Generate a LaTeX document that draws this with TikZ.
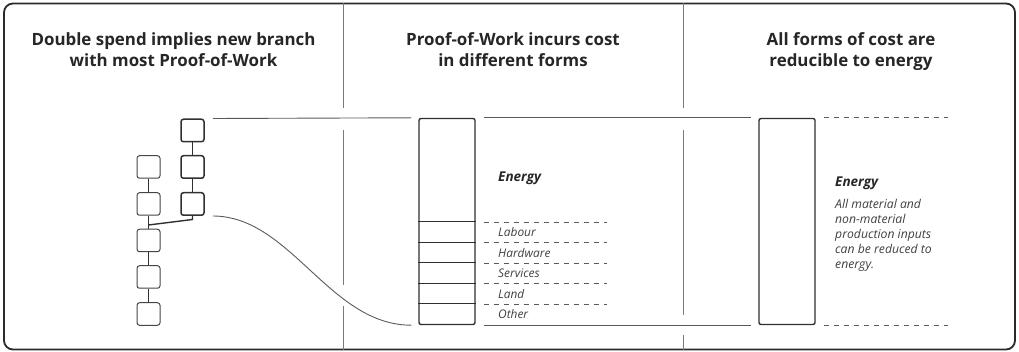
\documentclass[tikz,border=0pt]{standalone}
\usepackage{fontspec}
\setmainfont{Open Sans}
\definecolor{txt}{HTML}{262626}
\definecolor{frm}{HTML}{2A2A2A}
\definecolor{divc}{HTML}{7A7A7A}
\definecolor{hl}{HTML}{5A5A5A}
\definecolor{boxc}{HTML}{303030}
\definecolor{labc}{HTML}{404040}
\begin{document}
\begin{tikzpicture}[x=1pt,y=-1pt,
  frame/.style={draw=frm,line width=1.8pt,rounded corners=9pt},
  divline/.style={draw=divc,line width=1pt},
  blkL/.style={draw=boxc!90,line width=1pt,rounded corners=2.5pt,minimum width=23pt,minimum height=22.5pt,inner sep=0pt},
  blkR/.style={draw=boxc,line width=1.5pt,rounded corners=2.5pt,minimum width=23pt,minimum height=22.5pt,inner sep=0pt},
  link/.style={draw=boxc,line width=1.4pt},
  barbox/.style={draw=boxc,line width=1.4pt,rounded corners=2pt,minimum width=56pt,minimum height=206pt,inner sep=0pt},
  seg/.style={draw=boxc,line width=1pt},
  hline/.style={draw=hl,line width=0.9pt},
  dashline/.style={draw=hl,line width=0.9pt,dash pattern=on 5pt off 5pt},
  head/.style={text=txt,font=\fontsize{16.9}{21}\selectfont\bfseries,inner sep=0pt},
  lab/.style={text=labc,font=\fontsize{11.9}{14}\selectfont\itshape,inner sep=0pt},
  en/.style={text=txt,font=\fontsize{13.5}{15}\selectfont\bfseries\itshape,inner sep=0pt},
  bodytext/.style={text=labc,font=\fontsize{12.2}{14.85}\selectfont\itshape,inner sep=0pt,align=left}
]
\useasboundingbox (0,0) rectangle (1019,352);
% frame
\draw[frame] (4,3.5) rectangle (1015,349.5);
% dividers
\draw[divline] (343,3.5) -- (343,108);
\draw[divline] (343,130) -- (343,285);
\draw[divline] (343,306) -- (343,349.5);
\draw[divline] (683,3.5) -- (683,108);
\draw[divline] (683,130) -- (683,315);
\draw[divline] (683,335) -- (683,349.5);
% headings
\node[head,anchor=base] (h1a) at (173.5,45.7) {Double spend implies new branch};
\node[head,anchor=base] (h1b) at (173.5,66.7) {with most Proof-of-Work};
\node[head,anchor=base] (h2a) at (513,45.7) {Proof-of-Work incurs cost};
\node[head,anchor=base] (h2b) at (513,66.7) {in different forms};
\node[head,anchor=base] (h3a) at (851,45.7) {All forms of cost are};
\node[head,anchor=base] (h3b) at (851,66.7) {reducible to energy};
% chain
\node[blkL] (L1) at (148.5,167) {};
\node[blkL] (L2) at (148.5,204) {};
\node[blkL] (L3) at (148.5,240.5) {};
\node[blkL] (L4) at (148.5,277) {};
\node[blkL] (L5) at (148.5,314) {};
\node[blkR] (R1) at (192.5,130.5) {};
\node[blkR] (R2) at (192.5,167) {};
\node[blkR] (R3) at (192.5,204) {};
\draw[link] (L1) -- (L2);
\draw[link] (L2) -- (L3);
\draw[link] (L3) -- (L4);
\draw[link] (L4) -- (L5);
\draw[link] (R1) -- (R2);
\draw[link] (R2) -- (R3);
\coordinate (fk1) at (192.5,219.5);
\coordinate (fk2) at (148.5,225);
\draw[link] (R3.south) -- (fk1) -- (fk2);
% bars
\node[barbox] (B1) at (447,221.5) {};
\node[barbox] (B2) at (787,221.5) {};
\foreach \yy in {222,242.5,263,283.5,304}{
  \draw[seg] (B1.west |- 0,\yy) -- (B1.east |- 0,\yy);
  \draw[dashline] ([xshift=8pt]B1.east |- 0,\yy) -- ++(123,0);
}
% connecting lines
\draw[hline] ([xshift=8pt]R1.north east) -- ([xshift=-7pt]B1.north west);
\draw[hline] ([xshift=8pt]R3.south east) .. controls +(78,0) and +(-82,0) .. ([xshift=-7pt]B1.south west);
\draw[hline] ([xshift=8pt]B1.north east) -- ([xshift=-7pt]B2.north west);
\draw[hline] ([xshift=8pt]B1.south east) -- ([xshift=-7pt]B2.south west);
\draw[dashline] ([xshift=8pt]B2.north east) -- ++(124,0);
\draw[dashline] ([xshift=8pt]B2.south east) -- ++(124,0);
% labels
\node[en,anchor=base west] (e1) at (498,181.7) {Energy};
\node[lab,anchor=base west] (lb1) at (498,236.5) {Labour};
\node[lab,anchor=base west] (lb2) at (498,257.3) {Hardware};
\node[lab,anchor=base west] (lb3) at (498,277.5) {Services};
\node[lab,anchor=base west] (lb4) at (498,298.3) {Land};
\node[lab,anchor=base west] (lb5) at (498,318.3) {Other};
\node[en,anchor=base west] (e2) at (835,186.7) {Energy};
\node[bodytext,anchor=north west] (bd) at (835,199.4) {All material and\\non-material\\production inputs\\can be reduced to\\energy.};
\end{tikzpicture}
\end{document}
